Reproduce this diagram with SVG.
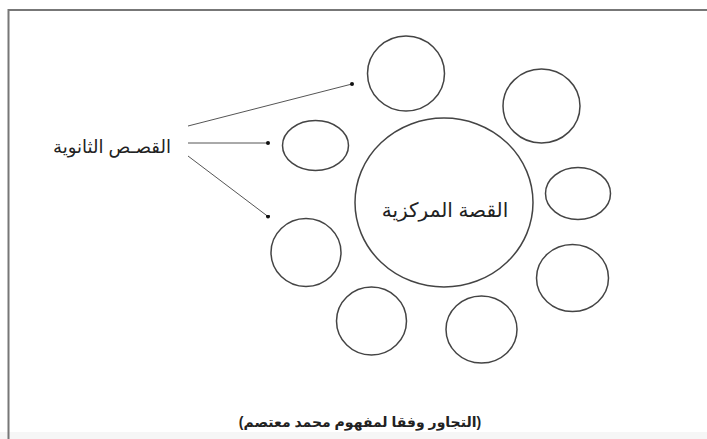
<svg xmlns="http://www.w3.org/2000/svg" width="707" height="439" viewBox="0 0 707 439">
<defs>
<style>
.c{fill:none;stroke:#444;stroke-width:1.5}
.l{fill:none;stroke:#555;stroke-width:1}
.t{font-family:"Liberation Sans","DejaVu Sans",sans-serif;fill:#222;text-anchor:middle}
</style>
<marker id="dot" viewBox="0 0 6 6" refX="3" refY="3" markerWidth="4" markerHeight="4" markerUnits="userSpaceOnUse">
<circle cx="3" cy="3" r="3" fill="#111"/>
</marker>
</defs>
<rect width="707" height="439" fill="#fff"/>
<rect x="0" y="432" width="707" height="7" fill="#f6f6f6"/>
<path d="M8.5 439 V10 H707" fill="none" stroke="#777" stroke-width="2"/>
<g id="secondary-label"><text class="t" x="112" y="153" font-size="18">القصـص الثانوية</text></g>
<g id="central"><ellipse class="c" cx="444" cy="202.5" rx="89" ry="84.5"/><text class="t" x="445" y="217" font-size="20">القصة المركزية</text></g>
<g id="c1"><ellipse class="c" cx="406" cy="73.5" rx="38.5" ry="37.5"/></g>
<g id="c2"><ellipse class="c" cx="541.5" cy="106" rx="38.5" ry="37"/></g>
<g id="c3"><ellipse class="c" cx="578" cy="193.5" rx="32.5" ry="26"/></g>
<g id="c4"><ellipse class="c" cx="572.5" cy="278" rx="36" ry="33.5"/></g>
<g id="c5"><ellipse class="c" cx="481.5" cy="329.5" rx="35.5" ry="33.5"/></g>
<g id="c6"><ellipse class="c" cx="371.5" cy="321" rx="35" ry="34"/></g>
<g id="c7"><ellipse class="c" cx="306" cy="252.5" rx="35" ry="34"/></g>
<g id="c8"><ellipse class="c" cx="315.5" cy="145.5" rx="33" ry="25"/></g>
<g id="connectors">
<line class="l" x1="188" y1="126" x2="352" y2="84" marker-end="url(#dot)"/>
<line class="l" x1="188" y1="143" x2="268" y2="143" marker-end="url(#dot)"/>
<line class="l" x1="188" y1="156" x2="268" y2="216.5" marker-end="url(#dot)"/>
</g>
<g id="caption"><text class="t" x="360" y="427" font-size="14" font-weight="bold">(التجاور وفقا لمفهوم محمد معتصم)</text></g>
</svg>
